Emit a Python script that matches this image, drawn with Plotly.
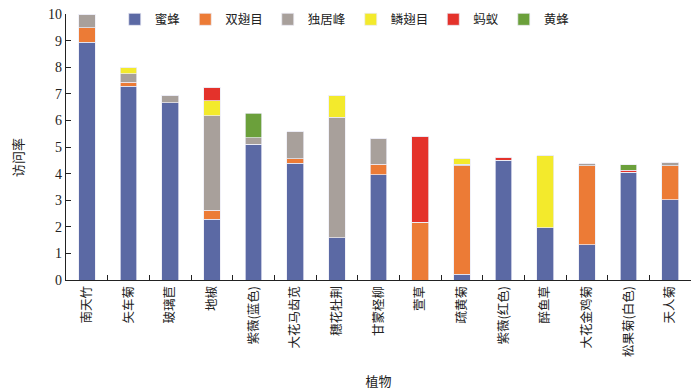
import plotly.graph_objects as go

plants = ["南天竹", "矢车菊", "玻璃苣", "地椒", "紫薇(蓝色)", "大花马齿苋", "穗花牡荆", "甘蒙柽柳",
          "萱草", "疏黄菊", "紫薇(红色)", "醉鱼草", "大花金鸡菊", "松果菊(白色)", "天人菊"]

honeybee = [8.94, 7.28, 6.66, 2.28, 5.10, 4.38, 1.59, 3.95, 0.00, 0.21, 4.50, 1.96, 1.32, 4.06, 3.02]
diptera  = [0.54, 0.15, 0.00, 0.35, 0.00, 0.18, 0.00, 0.40, 2.18, 4.08, 0.00, 0.00, 2.97, 0.00, 1.27]
solitary = [0.52, 0.33, 0.28, 3.55, 0.24, 1.01, 4.53, 0.98, 0.00, 0.06, 0.00, 0.00, 0.08, 0.00, 0.14]
lepidop  = [0.00, 0.22, 0.00, 0.56, 0.00, 0.00, 0.83, 0.00, 0.00, 0.21, 0.00, 2.72, 0.00, 0.00, 0.00]
ants     = [0.00, 0.00, 0.00, 0.50, 0.00, 0.00, 0.00, 0.00, 3.22, 0.00, 0.11, 0.00, 0.00, 0.06, 0.00]
wasps    = [0.00, 0.00, 0.00, 0.00, 0.92, 0.00, 0.00, 0.00, 0.00, 0.00, 0.00, 0.00, 0.00, 0.22, 0.00]

series_names = ["蜜蜂", "双翅目", "独居峰", "鳞翅目", "蚂蚁", "黄蜂"]
series_vals = [honeybee, diptera, solitary, lepidop, ants, wasps]
colors = ["#5b69a4", "#ec7b36", "#a8a09b", "#f3ea2c", "#e4322b", "#6ba03b"]

yticks = list(range(0, 11))

CJK = "Noto Sans CJK SC"
SERIF = "Liberation Serif"

fig = go.Figure()
for name, vals, c in zip(series_names, series_vals, colors):
    fig.add_trace(go.Bar(
        x=plants, y=vals, name=name,
        marker=dict(color=c, line=dict(color="rgba(235,235,245,0.9)", width=0.8)),
    ))

fig.update_layout(
    barmode="stack",
    bargap=0.6,
    width=700, height=390,
    margin=dict(l=58, r=17, t=6, b=118, autoexpand=False),
    plot_bgcolor="white",
    paper_bgcolor="white",
    font=dict(family=CJK, size=13, color="#222"),
    legend=dict(
        orientation="h", x=0.078, y=1.035, xanchor="left", yanchor="top",
        font=dict(family=CJK, size=12.5, color="#222"),
        bgcolor="rgba(0,0,0,0)", traceorder="normal",
        itemwidth=30,
    ),
    xaxis=dict(
        automargin=False,
        showline=True, linecolor="#222", linewidth=1.2,
        ticks="inside", tickson="boundaries", ticklen=5, tickcolor="#222",
        tickangle=-90, tickfont=dict(family=CJK, size=12.5, color="#222"),
        title=dict(text="植物", font=dict(family=CJK, size=13), standoff=20),
        range=[-0.5, 14.5],
    ),
    yaxis=dict(
        automargin=False,
        range=[0, 10], tickvals=yticks, showgrid=False, zeroline=False,
        showline=True, linecolor="#222", linewidth=1.2,
        ticks="inside", ticklen=5, tickcolor="#222",
        ticklabeloverflow="allow",
        tickfont=dict(family=SERIF, size=14, color="#222"),
    ),
    annotations=[dict(
        text="访问率", textangle=-90, xref="paper", yref="paper",
        x=-0.078, y=0.46, showarrow=False, xanchor="center", yanchor="middle",
        font=dict(family=CJK, size=13, color="#222"),
    )],
)

fig.write_html("out.html")
